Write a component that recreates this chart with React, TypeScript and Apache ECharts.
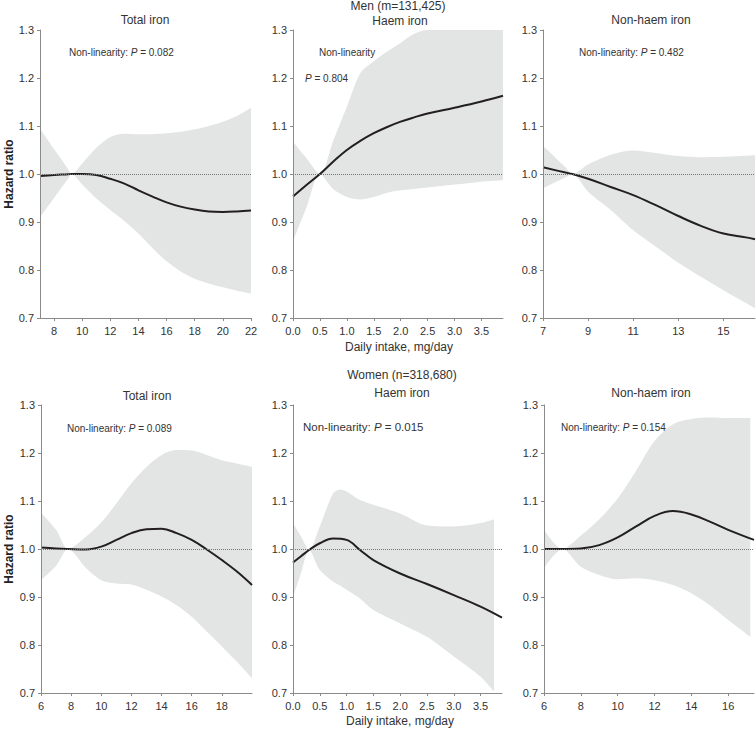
import React, { useEffect, useRef } from 'react';
import * as echarts from 'echarts';

// ---------- Men: Total iron ----------
const menTotalX = [7, 8, 9, 9.25, 10, 11, 12, 13, 14, 15, 16, 17, 18, 19, 20, 21, 22];
const menTotalHR = [0.996, 0.998, 0.9995, 1.0, 1.0, 0.998, 0.99, 0.98, 0.966, 0.953, 0.941, 0.932, 0.926, 0.922, 0.921, 0.922, 0.924];
const menTotalUpper = [1.095, 1.052, 1.01, 1.0, 1.022, 1.054, 1.077, 1.084, 1.083, 1.083, 1.085, 1.088, 1.093, 1.1, 1.109, 1.121, 1.138];
const menTotalLower = [0.91, 0.95, 0.99, 1.0, 0.978, 0.949, 0.925, 0.902, 0.876, 0.846, 0.818, 0.797, 0.782, 0.772, 0.764, 0.757, 0.751];
const menTotalTicks = [8, 10, 12, 14, 16, 18, 20, 22];

// ---------- Men: Haem iron ----------
const menHaemX = [0, 0.25, 0.5, 0.75, 1.0, 1.25, 1.5, 1.75, 2.0, 2.25, 2.5, 3.0, 3.5, 3.9];
const menHaemHR = [0.953, 0.977, 1.0, 1.026, 1.05, 1.069, 1.085, 1.098, 1.109, 1.118, 1.126, 1.138, 1.151, 1.163];
const menHaemUpper = [1.067, 1.033, 1.0, 1.07, 1.14, 1.21, 1.235, 1.255, 1.273, 1.292, 1.3, 1.3, 1.3, 1.3];
const menHaemLower = [0.86, 0.93, 1.0, 0.968, 0.952, 0.947, 0.952, 0.961, 0.966, 0.969, 0.972, 0.978, 0.984, 0.987];
const menHaemTicks = [0, 0.5, 1.0, 1.5, 2.0, 2.5, 3.0, 3.5];

// ---------- Men: Non-haem iron ----------
const menNonX = [7, 8, 8.3, 9, 10, 11, 12, 13, 14, 15, 16, 16.4];
const menNonHR = [1.014, 1.003, 1.0, 0.99, 0.973, 0.956, 0.935, 0.9125, 0.892, 0.876, 0.868, 0.864];
const menNonUpper = [1.059, 1.014, 1.0, 1.02, 1.04, 1.049, 1.044, 1.0375, 1.035, 1.036, 1.038, 1.039];
const menNonLower = [0.97, 0.993, 1.0, 0.963, 0.925, 0.883, 0.849, 0.815, 0.786, 0.758, 0.731, 0.72];
const menNonTicks = [7, 9, 11, 13, 15];

// ---------- Women: Total iron ----------
const womTotalX = [6, 7, 7.8, 9, 10, 11, 12, 13, 14, 15, 16, 17, 18, 19, 20];
const womTotalHR = [1.003, 1.001, 1.0, 0.999, 1.005, 1.019, 1.033, 1.041, 1.042, 1.033, 1.019, 0.999, 0.977, 0.953, 0.925];
const womTotalUpper = [1.076, 1.04, 1.0, 1.026, 1.055, 1.095, 1.137, 1.171, 1.196, 1.206, 1.205, 1.196, 1.185, 1.178, 1.171];
const womTotalLower = [0.935, 0.965, 1.0, 0.96, 0.935, 0.928, 0.926, 0.915, 0.901, 0.883, 0.859, 0.828, 0.797, 0.765, 0.731];
const womTotalTicks = [6, 8, 10, 12, 14, 16, 18];

// ---------- Women: Haem iron ----------
const womHaemLineX = [0, 0.15, 0.3, 0.5, 0.75, 1.0, 1.25, 1.5, 2.0, 2.5, 3.0, 3.5, 3.9];
const womHaemHR = [0.972, 0.985, 0.998, 1.012, 1.022, 1.019, 0.998, 0.977, 0.949, 0.927, 0.904, 0.88, 0.857];
const womHaemBandX = [0, 0.15, 0.3, 0.5, 0.75, 0.88, 1.0, 1.25, 1.5, 2.0, 2.5, 3.0, 3.5, 3.75];
const womHaemUpper = [1.054, 1.026, 0.998, 1.047, 1.116, 1.124, 1.12, 1.102, 1.092, 1.074, 1.049, 1.047, 1.054, 1.062];
const womHaemLower = [0.9, 0.95, 0.998, 0.956, 0.932, 0.924, 0.915, 0.897, 0.873, 0.845, 0.817, 0.776, 0.734, 0.703];
const womHaemTicks = [0, 0.5, 1.0, 1.5, 2.0, 2.5, 3.0, 3.5];

// ---------- Women: Non-haem iron ----------
const womNonLineX = [6, 7, 8, 9, 10, 11, 12, 13, 14, 15, 16, 17.4];
const womNonHR = [1.0, 1.0, 1.001, 1.008, 1.024, 1.047, 1.069, 1.079, 1.072, 1.057, 1.04, 1.019];
const womNonBandX = [6, 7, 8, 9, 10, 11, 12, 13, 14, 15, 16, 17.2];
const womNonUpper = [1.04, 1.0, 1.028, 1.062, 1.105, 1.163, 1.225, 1.26, 1.271, 1.274, 1.273, 1.273];
const womNonLower = [0.96, 1.0, 0.963, 0.946, 0.937, 0.939, 0.935, 0.925, 0.908, 0.883, 0.852, 0.817];
const womNonTicks = [6, 8, 10, 12, 14, 16];

const yMin = 0.7;
const yMax = 1.3;
const yStep = 0.1;

const W = 756;
const H = 729;
const FONT = '"Liberation Sans", Arial, Helvetica, sans-serif';
const BAND = '#e3e4e4';
const LINE = '#231f20';
const AXIS = '#8a8a8a';
const TXT = '#333333';

type Panel = {
  grid: { left: number; top: number; width: number; height: number };
  xMin: number;
  xMax: number;
  ticks: number[];
  decimals: number;
  lineX: number[];
  hr: number[];
  bandX: number[];
  lower: number[];
  upper: number[];
};

const panels: Panel[] = [
  { grid: { left: 40, top: 30, width: 211, height: 288 }, xMin: 7, xMax: 22, ticks: menTotalTicks, decimals: 0, lineX: menTotalX, hr: menTotalHR, bandX: menTotalX, lower: menTotalLower, upper: menTotalUpper },
  { grid: { left: 293, top: 30, width: 210, height: 288 }, xMin: 0, xMax: 3.9, ticks: menHaemTicks, decimals: 1, lineX: menHaemX, hr: menHaemHR, bandX: menHaemX, lower: menHaemLower, upper: menHaemUpper },
  { grid: { left: 543, top: 30, width: 212, height: 288 }, xMin: 7, xMax: 16.4, ticks: menNonTicks, decimals: 0, lineX: menNonX, hr: menNonHR, bandX: menNonX, lower: menNonLower, upper: menNonUpper },
  { grid: { left: 41, top: 405, width: 211, height: 288 }, xMin: 6, xMax: 20, ticks: womTotalTicks, decimals: 0, lineX: womTotalX, hr: womTotalHR, bandX: womTotalX, lower: womTotalLower, upper: womTotalUpper },
  { grid: { left: 293, top: 405, width: 209, height: 288 }, xMin: 0, xMax: 3.9, ticks: womHaemTicks, decimals: 1, lineX: womHaemLineX, hr: womHaemHR, bandX: womHaemBandX, lower: womHaemLower, upper: womHaemUpper },
  { grid: { left: 544, top: 405, width: 210, height: 288 }, xMin: 6, xMax: 17.4, ticks: womNonTicks, decimals: 0, lineX: womNonLineX, hr: womNonHR, bandX: womNonBandX, lower: womNonLower, upper: womNonUpper },
];

function txt(text: string, x: number, y: number, size: number, align: string = 'center', extra: any = {}) {
  return {
    type: 'text',
    x,
    y,
    z: 100,
    silent: true,
    style: {
      text,
      align,
      verticalAlign: 'middle',
      fontSize: size,
      fontFamily: FONT,
      fill: TXT,
      ...extra,
    },
  };
}

function pText(prefix: string, value: string, x: number, y: number, size: number) {
  return {
    type: 'text',
    x,
    y,
    z: 100,
    silent: true,
    style: {
      text: `${prefix}{i|P} = ${value}`,
      align: 'left',
      verticalAlign: 'middle',
      fontSize: size,
      fontFamily: FONT,
      fill: TXT,
      rich: {
        i: { fontStyle: 'italic', fontSize: size, fontFamily: FONT, fill: TXT },
      },
    },
  };
}

export default function App() {
  const ref = useRef<HTMLDivElement>(null);

  useEffect(() => {
    if (!ref.current) return;
    const chart = echarts.init(ref.current, null, { renderer: 'svg', width: W, height: H });

    const grids = panels.map((p) => ({ ...p.grid, containLabel: false }));
    const xAxes = panels.map((p, i) => ({
      type: 'value',
      gridIndex: i,
      min: p.xMin,
      max: p.xMax,
      z: 10,
      splitLine: { show: false },
      axisLine: { show: true, onZero: false, lineStyle: { color: AXIS, width: 1 } },
      axisTick: { show: true, length: 3, lineStyle: { color: AXIS }, customValues: p.ticks },
      axisLabel: {
        customValues: p.ticks,
        margin: 7,
        fontSize: 11,
        fontFamily: FONT,
        color: TXT,
        formatter: (v: number) => v.toFixed(p.decimals),
      },
    }));
    const yAxes = panels.map((p, i) => ({
      type: 'value',
      gridIndex: i,
      min: yMin,
      max: yMax,
      interval: yStep,
      z: 10,
      splitLine: { show: false },
      axisLine: { show: true, lineStyle: { color: AXIS, width: 1 } },
      axisTick: { show: true, length: 3, lineStyle: { color: AXIS } },
      axisLabel: {
        margin: 6,
        fontSize: 11,
        fontFamily: FONT,
        color: TXT,
        formatter: (v: number) => v.toFixed(1),
      },
    }));

    const series: any[] = [];
    panels.forEach((p, i) => {
      const last = p.bandX.length - 1;
      // upper CI filled down to the axis in grey
      series.push({
        type: 'line',
        xAxisIndex: i,
        yAxisIndex: i,
        data: p.bandX.map((x, k) => [x, p.upper[k]]),
        symbol: 'none',
        smooth: 0.3,
        lineStyle: { opacity: 0, width: 0 },
        areaStyle: { color: BAND, opacity: 1, origin: 'start' },
        silent: true,
        z: 1,
      });
      // lower CI filled down to the axis in white (leaves the band between)
      series.push({
        type: 'line',
        xAxisIndex: i,
        yAxisIndex: i,
        data: p.bandX.map((x, k) => [x, p.lower[k]]),
        symbol: 'none',
        smooth: 0.3,
        lineStyle: { opacity: 0, width: 0 },
        areaStyle: { color: '#ffffff', opacity: 1, origin: 'start' },
        silent: true,
        z: 1,
      });
      // white edge below the band's last point (hides anti-aliasing seam)
      series.push({
        type: 'line',
        xAxisIndex: i,
        yAxisIndex: i,
        data: [
          [p.bandX[last], p.lower[last]],
          [p.bandX[last], yMin],
        ],
        symbol: 'none',
        lineStyle: { color: '#ffffff', width: 2 },
        silent: true,
        z: 2,
      });
      series.push({
        type: 'line',
        xAxisIndex: i,
        yAxisIndex: i,
        data: p.lineX.map((x, k) => [x, p.hr[k]]),
        symbol: 'none',
        smooth: 0.4,
        lineStyle: { color: LINE, width: 2 },
        silent: true,
        z: 3,
        markLine: {
          silent: true,
          symbol: 'none',
          label: { show: false },
          lineStyle: { color: '#777', type: 'dotted', width: 1 },
          data: [{ yAxis: 1.0 }],
        },
      });
    });

    const graphic: any[] = [
      // titles
      txt('Total iron', 145, 20, 12),
      txt('Men (m=131,425)', 398, 6, 12),
      txt('Haem iron', 400, 21, 12),
      txt('Non-haem iron', 651, 20, 12),
      txt('Total iron', 147, 396, 12),
      txt('Women (n=318,680)', 402, 375, 12),
      txt('Haem iron', 402, 393, 12),
      txt('Non-haem iron', 651, 393, 12),
      // axis names
      txt('Daily intake, mg/day', 399, 347, 12),
      txt('Daily intake, mg/day', 400, 721, 12),
      { ...txt('Hazard ratio', 9, 174, 12, 'center', { fontWeight: 'bold', fill: '#222' }), rotation: Math.PI / 2 },
      { ...txt('Hazard ratio', 9, 549, 12, 'center', { fontWeight: 'bold', fill: '#222' }), rotation: Math.PI / 2 },
      // annotations
      pText('Non-linearity: ', '0.082', 69, 52, 10),
      txt('Non-linearity', 319, 52, 10, 'left'),
      pText('', '0.804', 305, 78, 10),
      pText('Non-linearity: ', '0.482', 579, 52, 10),
      pText('Non-linearity: ', '0.089', 67, 428, 10),
      pText('Non-linearity: ', '0.015', 303, 427, 11.5),
      pText('Non-linearity: ', '0.154', 561, 427, 10),
    ];

    chart.setOption({
      animation: false,
      backgroundColor: '#ffffff',
      grid: grids,
      xAxis: xAxes,
      yAxis: yAxes,
      series,
      graphic,
    });

    return () => chart.dispose();
  }, []);

  return (
    <div
      ref={ref}
      style={{ position: 'absolute', left: 0, top: 0, width: W, height: H, background: '#fff' }}
    />
  );
}
